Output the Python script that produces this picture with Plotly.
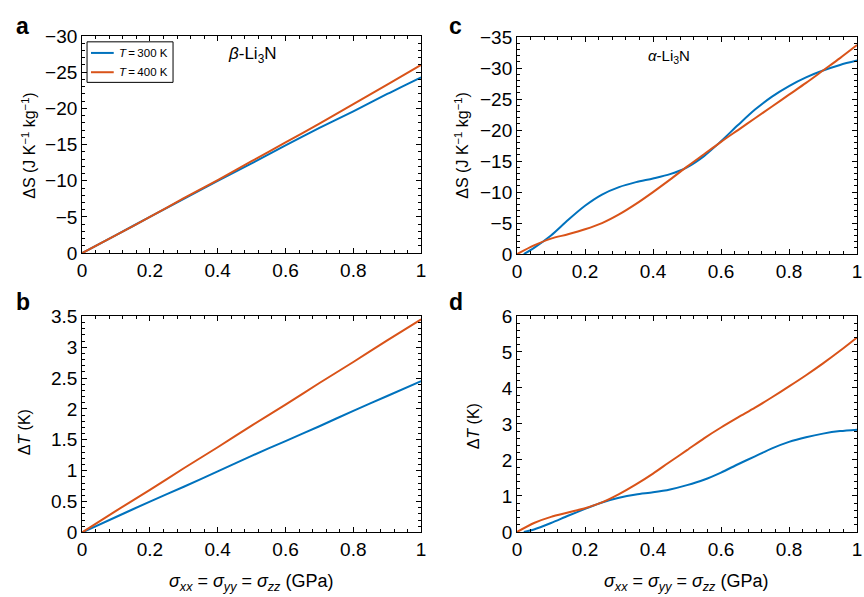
import plotly.graph_objects as go

# Stress grid (GPa)
x_lin = [0.0, 0.1, 0.2, 0.3, 0.4, 0.5, 0.6, 0.7, 0.8, 0.9, 1.0]
x_fine = [0.0, 0.05, 0.1, 0.15, 0.2, 0.25, 0.3, 0.35, 0.4, 0.45, 0.5,
          0.55, 0.6, 0.65, 0.7, 0.75, 0.8, 0.85, 0.9, 0.95, 1.0]
x_fine_late = [0.02, 0.05, 0.1, 0.15, 0.2, 0.25, 0.3, 0.35, 0.4, 0.45, 0.5,
               0.55, 0.6, 0.65, 0.7, 0.75, 0.8, 0.85, 0.9, 0.95, 1.0]

# beta-Li3N: entropy change (J K^-1 kg^-1)
dS_beta_300 = [0, -2.5, -5.0, -7.5, -10.0, -12.4, -14.9, -17.3, -19.6, -22.0, -24.3]
dS_beta_400 = [0, -2.5, -5.0, -7.6, -10.1, -12.7, -15.3, -17.9, -20.6, -23.3, -26.0]
# beta-Li3N: temperature change (K)
dT_beta_300 = [0, 0.25, 0.50, 0.74, 0.99, 1.24, 1.48, 1.72, 1.97, 2.21, 2.45]
dT_beta_400 = [0, 0.35, 0.69, 1.04, 1.38, 1.73, 2.07, 2.42, 2.76, 3.11, 3.45]

# alpha-Li3N: entropy change (J K^-1 kg^-1)
dS_alpha_300 = [0, -1.0, -3.0, -5.5, -7.8, -9.6, -10.8, -11.6, -12.2, -12.9, -14.0,
                -15.8, -18.2, -20.8, -23.3, -25.4, -27.1, -28.5, -29.6, -30.5, -31.2]
dS_alpha_400 = [0, -1.4, -2.5, -3.2, -4.0, -5.0, -6.4, -8.1, -10.0, -12.0, -14.1,
                -16.1, -18.1, -20.0, -21.9, -23.8, -25.7, -27.6, -29.6, -31.6, -33.7]
# alpha-Li3N: temperature change (K)
dT_alpha_300 = [0, 0.07, 0.25, 0.45, 0.64, 0.82, 0.95, 1.04, 1.10, 1.18, 1.30,
                1.45, 1.65, 1.88, 2.10, 2.32, 2.50, 2.63, 2.73, 2.80, 2.84]
dT_alpha_400 = [0, 0.25, 0.42, 0.54, 0.66, 0.82, 1.05, 1.32, 1.62, 1.95, 2.27,
                2.60, 2.90, 3.18, 3.45, 3.74, 4.04, 4.35, 4.68, 5.03, 5.40]

series_names = ["<i>T</i>\u2009=\u2009300 K", "<i>T</i>\u2009=\u2009400 K"]
BLUE = "#0072BD"
ORANGE = "#D95319"
FONT = "Liberation Sans, Arial, Helvetica, sans-serif"

W, H = 864, 597


def px_x(p):
    return p / W


def px_y(p):
    return 1 - p / H


fig = go.Figure()

panels = [
    # (xaxis, yaxis, x for 300 K, 300 K values, x for 400 K, 400 K values)
    ("x", "y", x_lin, dS_beta_300, x_lin, dS_beta_400),
    ("x2", "y2", x_fine_late, dS_alpha_300, x_fine, dS_alpha_400),
    ("x3", "y3", x_lin, dT_beta_300, x_lin, dT_beta_400),
    ("x4", "y4", x_fine_late, dT_alpha_300, x_fine, dT_alpha_400),
]

for xa, ya, x3, y3, x4, y4 in panels:
    fig.add_trace(go.Scatter(x=x3, y=y3, mode="lines", name=series_names[0],
                             line=dict(color=BLUE, width=2, shape="spline", smoothing=0.8),
                             xaxis=xa, yaxis=ya, showlegend=False))
    fig.add_trace(go.Scatter(x=x4, y=y4, mode="lines", name=series_names[1],
                             line=dict(color=ORANGE, width=2, shape="spline", smoothing=0.8),
                             xaxis=xa, yaxis=ya, showlegend=False))

common = dict(showline=True, linecolor="black", linewidth=1, mirror="allticks",
              ticks="inside", ticklen=5, tickwidth=1, tickcolor="black",
              showgrid=False, zeroline=False,
              tickfont=dict(family=FONT, size=19, color="black"))

xcommon = dict(common, range=[0, 1], dtick=0.2, tick0=0,
               minor=dict(dtick=0.04, ticks="inside", ticklen=3, tickcolor="black", showgrid=False))

left_dom = [px_x(78), px_x(421)]
right_dom = [px_x(518), px_x(862)]
top_dom_a = [px_y(252), px_y(27)]
top_dom_c = [px_y(253), px_y(28)]
bot_dom_b = [px_y(541.5), px_y(317.5)]
bot_dom_d = [px_y(541), px_y(317)]

fig.update_layout(
    width=W, height=H,
    margin=dict(l=0, r=0, t=0, b=0),
    paper_bgcolor="white", plot_bgcolor="white",
    font=dict(family=FONT, color="black"),
    xaxis=dict(xcommon, domain=left_dom, anchor="y"),
    yaxis=dict(common, domain=top_dom_a, anchor="x", range=[0, -30], dtick=5,
               minor=dict(dtick=1, ticks="inside", ticklen=3, tickcolor="black", showgrid=False)),
    xaxis2=dict(xcommon, domain=right_dom, anchor="y2"),
    yaxis2=dict(common, domain=top_dom_c, anchor="x2", range=[0, -35], dtick=5,
                minor=dict(dtick=1, ticks="inside", ticklen=3, tickcolor="black", showgrid=False)),
    xaxis3=dict(xcommon, domain=left_dom, anchor="y3"),
    yaxis3=dict(common, domain=bot_dom_b, anchor="x3", range=[0, 3.5], dtick=0.5,
                minor=dict(dtick=0.1, ticks="inside", ticklen=3, tickcolor="black", showgrid=False)),
    xaxis4=dict(xcommon, domain=right_dom, anchor="y4"),
    yaxis4=dict(common, domain=bot_dom_d, anchor="x4", range=[0, 6], dtick=1,
                minor=dict(dtick=0.2, ticks="inside", ticklen=3, tickcolor="black", showgrid=False)),
    showlegend=False,
)


def label(text, x, y, size, angle=0, xanchor="center"):
    return dict(text=text, x=px_x(x), y=px_y(y), xref="paper", yref="paper",
                xanchor=xanchor, yanchor="middle", textangle=angle, showarrow=False,
                borderpad=0, font=dict(family=FONT, size=size, color="black"))


ann = []
# panel letters
for letter, x, y in [("a", 18, 17), ("c", 456, 17), ("b", 18, 303), ("d", 456, 303)]:
    ann.append(label(f"<b>{letter}</b>", x, y, 23))
# material labels
ann.append(label("<i>β</i>-Li<sub>3</sub>N", 250, 47, 17))
ann.append(label("<i>α</i>-Li<sub>3</sub>N", 672, 48, 15))
# y axis titles
dS_title = "ΔS (J K<sup>−1</sup> kg<sup>−1</sup>)"
dT_title = "Δ<i>T</i> (K)"
for text, x, y in [(dS_title, 24, 141), (dS_title, 462, 141), (dT_title, 20, 438), (dT_title, 474, 432)]:
    ann.append(label(text, x, y, 16, angle=-90))
# x axis titles
x_title = "<i>σ</i><sub><i>xx</i></sub> = <i>σ</i><sub><i>yy</i></sub> = <i>σ</i><sub><i>zz</i></sub> (GPa)"
for x in (249, 689):
    ann.append(label(x_title, x, 593, 18))

# legend box for panel a (line samples and labels)
shapes = [dict(type="rect", xref="paper", yref="paper",
               x0=px_x(83), x1=px_x(170), y0=px_y(75), y1=px_y(33),
               line=dict(color="black", width=1), fillcolor="white", layer="above")]
for name, color, yy in [(series_names[0], BLUE, 44.5), (series_names[1], ORANGE, 64.5)]:
    shapes.append(dict(type="line", xref="paper", yref="paper",
                       x0=px_x(87), x1=px_x(110), y0=px_y(yy), y1=px_y(yy),
                       line=dict(color=color, width=2), layer="above"))
    ann.append(label(name, 114, yy, 11.5, xanchor="left"))

fig.update_layout(annotations=ann, shapes=shapes)

fig.write_html("out.html")
